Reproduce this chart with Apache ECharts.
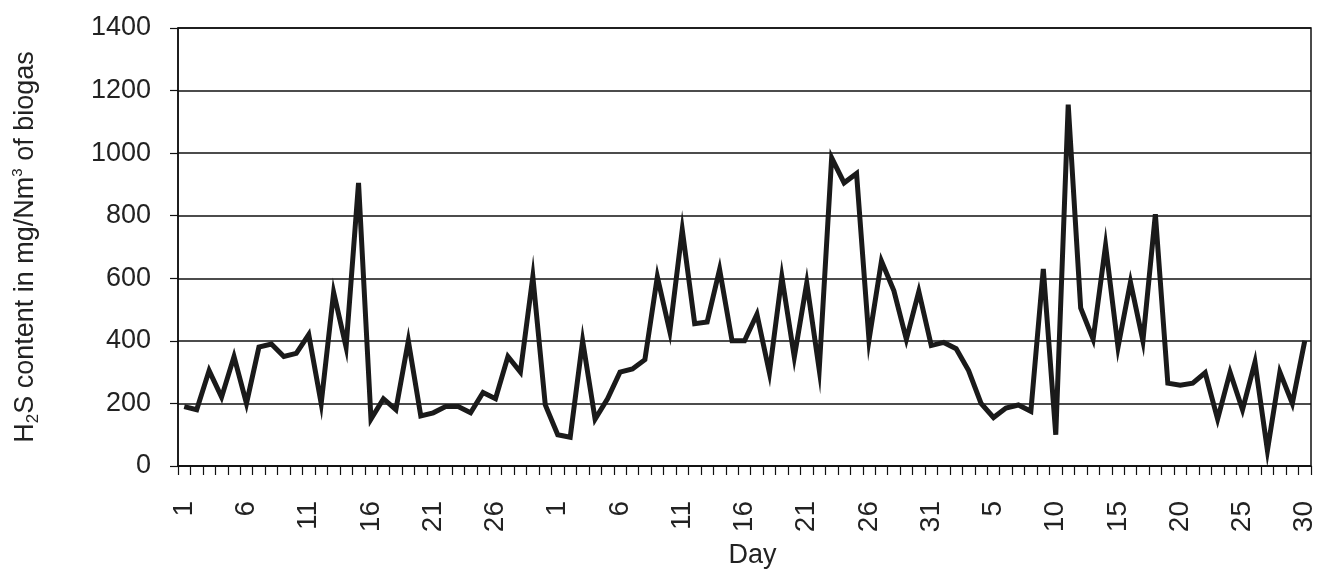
<!DOCTYPE html>
<html>
<head>
<meta charset="utf-8">
<script src="https://cdn.jsdelivr.net/npm/echarts@6/dist/echarts.min.js"></script>
<style>
html,body{margin:0;padding:0;background:#fff;}
#c{width:1321px;height:570px;}
</style>
</head>
<body>
<div id="c"></div>
<script>
// Day labels: three consecutive months (30, 31, 30 days)
const month1Days = Array.from({length:30}, (_, k) => String(k + 1));
const month2Days = Array.from({length:31}, (_, k) => String(k + 1));
const month3Days = Array.from({length:30}, (_, k) => String(k + 1));
const days = month1Days.concat(month2Days, month3Days);

// H2S content in mg/Nm3 of biogas
const h2sMonth1 = [190,180,305,220,350,200,380,390,350,360,
                   420,200,555,380,905,150,215,180,400,160,
                   170,190,190,170,235,215,350,300,605,195];
const h2sMonth2 = [100,92,400,150,215,300,310,340,605,430,
                   755,455,460,628,400,400,485,298,605,348,
                   585,308,985,905,935,403,655,560,405,558,
                   385];
const h2sMonth3 = [395,375,305,200,155,185,195,175,630,100,
                   1155,505,405,705,380,588,400,805,265,258,
                   265,298,150,300,180,332,50,300,200,400];
const h2s = h2sMonth1.concat(h2sMonth2, h2sMonth3);

const yTicks = {min:0, max:1400, interval:200};

const chart = echarts.init(document.getElementById('c'));
const font = 'Liberation Sans, Arial, sans-serif';
chart.setOption({
  backgroundColor:'#ffffff',
  animation:false,
  grid:{left:178, right:10, top:28, bottom:104, containLabel:false, outerBoundsMode:'none',
        show:true, borderColor:'#111', borderWidth:1.5, backgroundColor:'transparent'},
  xAxis:{
    type:'category',
    data:days,
    boundaryGap:true,
    name:'Day',
    nameLocation:'middle',
    nameGap:76,
    nameTextStyle:{fontFamily:font, fontSize:27, color:'#222', padding:[0,0,0,16]},
    axisLine:{show:true, lineStyle:{color:'#111', width:1.5}},
    axisTick:{show:true, interval:0, length:9, lineStyle:{color:'#111', width:1.2}},
    axisLabel:{interval:4, rotate:90, margin:35, fontFamily:font, fontSize:28, color:'#222'},
    splitLine:{show:false}
  },
  yAxis:{
    type:'value',
    min:yTicks.min, max:yTicks.max, interval:yTicks.interval,
    name:'{a|H}{sub|2}{a|S content in mg/Nm}{sup|3}{a| of biogas}',
    nameLocation:'middle',
    nameGap:136,
    nameTextStyle:{
      fontFamily:font, fontSize:27, color:'#222',
      rich:{
        a:{fontFamily:font, fontSize:27, color:'#222', lineHeight:32, verticalAlign:'middle'},
        sub:{fontFamily:font, fontSize:17, color:'#222', lineHeight:32, verticalAlign:'bottom'},
        sup:{fontFamily:font, fontSize:15, color:'#222', lineHeight:32, verticalAlign:'top'}
      }
    },
    axisLine:{show:true, lineStyle:{color:'#111', width:1.5}},
    axisTick:{show:true, length:8, lineStyle:{color:'#111', width:1.2}},
    axisLabel:{margin:27, fontFamily:font, fontSize:27, color:'#222', formatter:function(v){return String(v);}},
    splitLine:{show:true, lineStyle:{color:'#111', width:1.5}}
  },
  series:[{
    type:'line',
    data:h2s,
    showSymbol:false,
    symbol:'none',
    lineStyle:{color:'#1a1a1a', width:5, join:'miter'},
    z:3
  }]
});
</script>
</body>
</html>
